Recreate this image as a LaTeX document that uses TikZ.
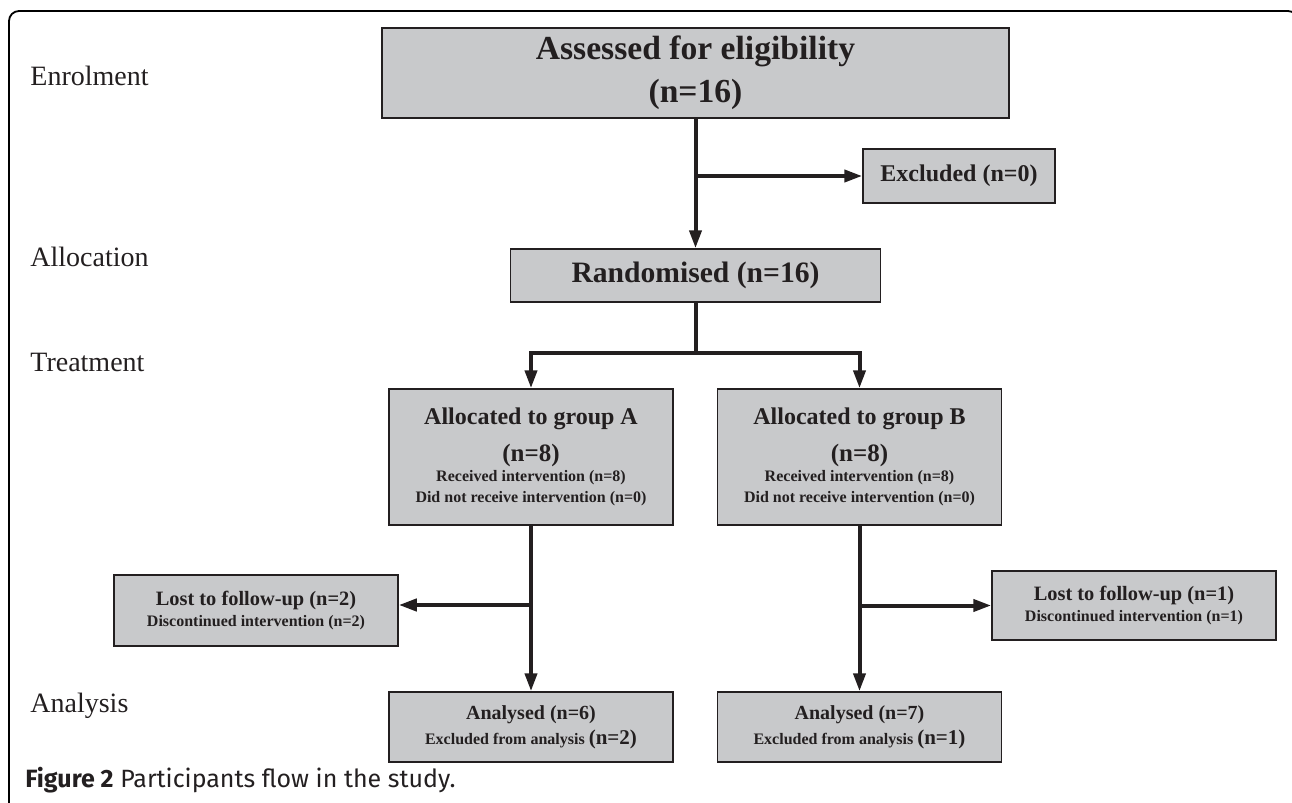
\documentclass[tikz,border=0pt]{standalone}
\usepackage{fontspec}
\setmainfont{Liberation Serif}
\newfontfamily\capfont{Fira Sans}
\usetikzlibrary{arrows.meta}

\definecolor{boxgray}{HTML}{C8C9CB}
\definecolor{ink}{HTML}{231F20}

\tikzset{
  box/.style   = {draw=ink, fill=boxgray, line width=0.75pt, inner sep=0pt,
                  align=center, text=ink,
                  font=\bfseries\fontsize{8}{10}\selectfont,
                  execute at begin node={\lineskiplimit=-50pt}},
  flow/.style  = {draw=ink, line width=2pt, -{Triangle[length=9pt,width=6pt]}},
  link/.style  = {draw=ink, line width=2pt},
  stage/.style = {anchor=base west, inner sep=0pt, text=ink,
                  font=\fontsize{14}{16}\selectfont}
}

\begin{document}
\begin{tikzpicture}[x=0.5pt, y=-0.5pt]
  \useasboundingbox (0,0) rectangle (1292,803);
  \draw [line width=0.9pt, rounded corners=5pt] (9,830) -- (9,11) -- (1298,11) -- (1298,830);

  % stages
  \node [stage] (enrol) at (30,85)  {Enrolment};
  \node [stage] (alloc) at (30,266) {Allocation};
  \node [stage] (treat) at (30,371) {Treatment};
  \node [stage] (anal)  at (30,712) {Analysis};

  % boxes
  \node [box, minimum width=313.5pt, minimum height=45pt,
         font=\bfseries\fontsize{16.8}{21.5}\selectfont] (assess) at (695.5,73)
        {Assessed for eligibility\\(n=16)};
  \node [box, minimum width=96pt, minimum height=27pt,
         font=\bfseries\fontsize{12}{14}\selectfont] (excl) at (959,176) {Excluded (n=0)};
  \node [box, minimum width=185pt, minimum height=26.5pt,
         font=\bfseries\fontsize{14.8}{16}\selectfont] (rand) at (695.5,275.5) {Randomised (n=16)};

  \node [box, minimum width=142pt, minimum height=68pt] (grpA) at (531,457)
        {{\fontsize{12}{14}\selectfont Allocated to group A}\\[8.5pt]
         {\fontsize{12.5}{14}\selectfont (n=8)}\\
         Received intervention (n=8)\\[0.5pt]
         Did not receive intervention (n=0)};
  \node [box, minimum width=142pt, minimum height=68pt] (grpB) at (859.5,457)
        {{\fontsize{12}{14}\selectfont Allocated to group B}\\[8.5pt]
         {\fontsize{12.5}{14}\selectfont (n=8)}\\
         Received intervention (n=8)\\[0.5pt]
         Did not receive intervention (n=0)};

  \node [box, minimum width=142pt, minimum height=35.5pt] (lostA) at (256,610.5)
        {{\fontsize{10.2}{12}\selectfont Lost to follow-up (n=2)}\\[0.5pt]
         Discontinued intervention (n=2)};
  \node [box, minimum width=142pt, minimum height=34.5pt] (lostB) at (1134,605.5)
        {{\fontsize{10.2}{12}\selectfont Lost to follow-up (n=1)}\\[0.5pt]
         Discontinued intervention (n=1)};

  \node [box, minimum width=142pt, minimum height=35pt] (anaA) at (531,727)
        {{\fontsize{10}{12}\selectfont Analysed (n=6)}\\[2.5pt]
         Excluded from analysis {\fontsize{10.5}{12}\selectfont(n=2)}};
  \node [box, minimum width=142pt, minimum height=35pt] (anaB) at (859.5,727)
        {{\fontsize{10}{12}\selectfont Analysed (n=7)}\\[2.5pt]
         Excluded from analysis {\fontsize{10.5}{12}\selectfont(n=1)}};

  % arrows
  \draw [flow] (assess.south) -- (rand.north);
  \draw [flow] (assess.south |- excl.west) -- (excl.west);

  \coordinate (split) at (695.5,353);
  \draw [link] (rand.south) -- (split);
  \draw [flow] (split) -| (grpA.north);
  \draw [flow] (split) -| (grpB.north);

  \draw [flow] (grpA.south) -- (anaA.north);
  \coordinate (brA) at (531,605);
  \draw [flow] (brA) -- (brA -| lostA.east);

  \draw [flow] (grpB.south) -- (anaB.north);
  \draw [flow] (grpB.south |- lostB.west) -- (lostB.west);

  \node [anchor=base west, inner sep=0pt, text=ink,
         font=\capfont\fontsize{12.5}{14}\selectfont] (caption) at (25,787)
        {\textbf{Figure 2} Participants flow in the study.};
\end{tikzpicture}
\end{document}
